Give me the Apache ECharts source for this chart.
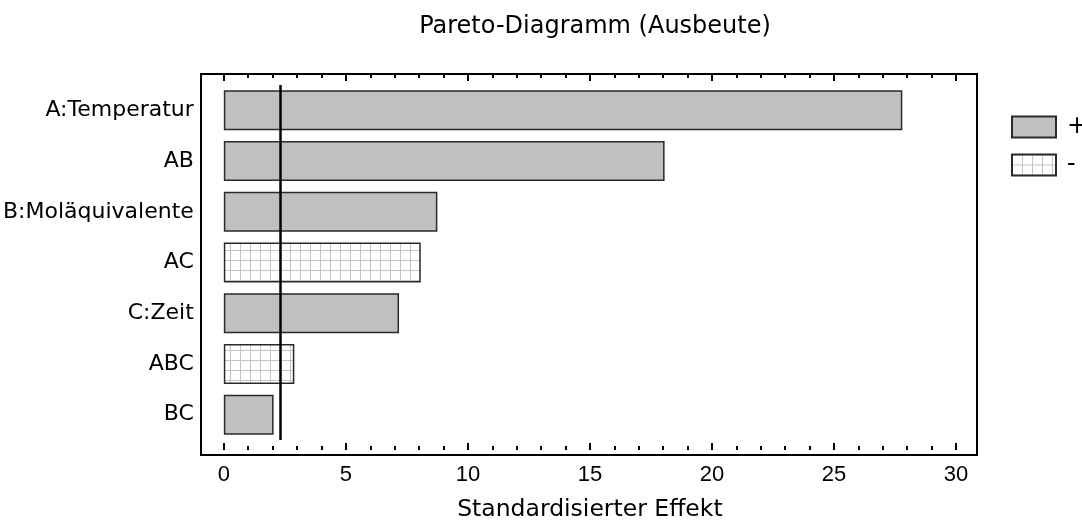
<!DOCTYPE html>
<html>
<head>
<meta charset="utf-8">
<script src="https://cdn.jsdelivr.net/npm/echarts@6/dist/echarts.min.js"></script>
<style>
  html, body { margin: 0; padding: 0; background: #fff; }
  #chart { width: 1082px; height: 527px; }
</style>
</head>
<body>
<div id="chart"></div>
<script>
// Effects ordered by size, their standardized values and signs
const categories = ['A:Temperatur', 'AB', 'B:Moläquivalente', 'AC', 'C:Zeit', 'ABC', 'BC'];
const effectValues = [27.8, 18.06, 8.75, 8.07, 7.18, 2.89, 2.04];
const effectSigns = ['+', '+', '+', '-', '+', '-', '+'];
const criticalValue = 2.306;
const xTicks = [0, 5, 10, 15, 20, 25, 30];

const TEXT_FONT = 'DejaVu Sans';
const NUM_FONT = 'Liberation Sans';

// Small tile for the checkered fill of negative effects
function makeGridPattern() {
  const c = document.createElement('canvas');
  c.width = 10; c.height = 10;
  const g = c.getContext('2d');
  g.fillStyle = '#ffffff';
  g.fillRect(0, 0, 10, 10);
  g.strokeStyle = '#c4c4c4';
  g.lineWidth = 1;
  g.beginPath();
  g.moveTo(0.5, 0); g.lineTo(0.5, 10);
  g.moveTo(0, 0.5); g.lineTo(10, 0.5);
  g.stroke();
  return c;
}

const posData = effectValues.map((v, i) => effectSigns[i] === '+' ? v : null);
const negData = effectValues.map((v, i) => effectSigns[i] === '-' ? v : null);

const chart = echarts.init(document.getElementById('chart'), null, { renderer: 'canvas' });

const tickAxis = {
  type: 'value',
  gridIndex: 1,
  min: xTicks[0],
  max: xTicks[xTicks.length - 1],
  interval: xTicks[1] - xTicks[0],
  axisLine: { show: false },
  axisTick: { show: true, inside: true, length: 7, lineStyle: { color: '#000', width: 2 } },
  minorTick: { show: true, splitNumber: 5, length: 4, lineStyle: { color: '#000', width: 2 } },
  splitLine: { show: false }
};

chart.setOption({
  animation: false,
  backgroundColor: '#fff',
  textStyle: { fontFamily: TEXT_FONT },
  title: {
    text: 'Pareto-Diagramm (Ausbeute)',
    left: 590,
    textAlign: 'center',
    top: 10,
    textStyle: { fontFamily: TEXT_FONT, fontSize: 24, fontWeight: 'normal', color: '#000' }
  },
  legend: {
    orient: 'vertical',
    left: 1006,
    top: 110,
    icon: 'rect',
    itemWidth: 44,
    itemHeight: 21,
    itemGap: 14,
    data: ['+', '-'],
    textStyle: { fontFamily: TEXT_FONT, fontSize: 24, color: '#000', padding: [0, 0, 0, 6] }
  },
  grid: [
    // outer frame
    { left: 201, top: 74, width: 776, height: 381, show: true, borderColor: '#000', borderWidth: 2, backgroundColor: 'transparent' },
    // plotting region for the bars
    { left: 223.5, top: 85, width: 732.5, height: 360 }
  ],
  xAxis: [
    { type: 'value', gridIndex: 0, show: false, min: 0, max: 1 },
    Object.assign({}, tickAxis, {
      position: 'bottom',
      offset: 10,
      name: 'Standardisierter Effekt',
      nameLocation: 'middle',
      nameGap: 48,
      nameTextStyle: { fontFamily: TEXT_FONT, fontSize: 23.5, color: '#000' },
      axisLabel: { show: true, margin: 14, fontFamily: NUM_FONT, fontSize: 22, color: '#000' }
    }),
    Object.assign({}, tickAxis, {
      position: 'top',
      offset: 11,
      axisLabel: { show: false }
    })
  ],
  yAxis: [
    { type: 'value', gridIndex: 0, show: false, min: 0, max: 1 },
    {
      type: 'category',
      gridIndex: 1,
      data: categories,
      inverse: true,
      axisLine: { show: false },
      axisTick: { show: false },
      axisLabel: { margin: 30, fontFamily: TEXT_FONT, fontSize: 22, color: '#000' }
    }
  ],
  series: [
    {
      name: '+',
      type: 'bar',
      xAxisIndex: 1,
      yAxisIndex: 1,
      data: posData,
      barWidth: 40,
      barGap: '-100%',
      itemStyle: { color: '#c0c0c0', borderColor: '#2a2a2a', borderWidth: 1.5 },
      markLine: {
        silent: true,
        symbol: 'none',
        label: { show: false },
        lineStyle: { color: '#000', width: 2.5, type: 'solid' },
        data: [{ xAxis: criticalValue }]
      }
    },
    {
      name: '-',
      type: 'bar',
      xAxisIndex: 1,
      yAxisIndex: 1,
      data: negData,
      barWidth: 40,
      barGap: '-100%',
      itemStyle: {
        color: { image: makeGridPattern(), repeat: 'repeat' },
        borderColor: '#2a2a2a',
        borderWidth: 1.5
      }
    }
  ]
});
</script>
</body>
</html>
